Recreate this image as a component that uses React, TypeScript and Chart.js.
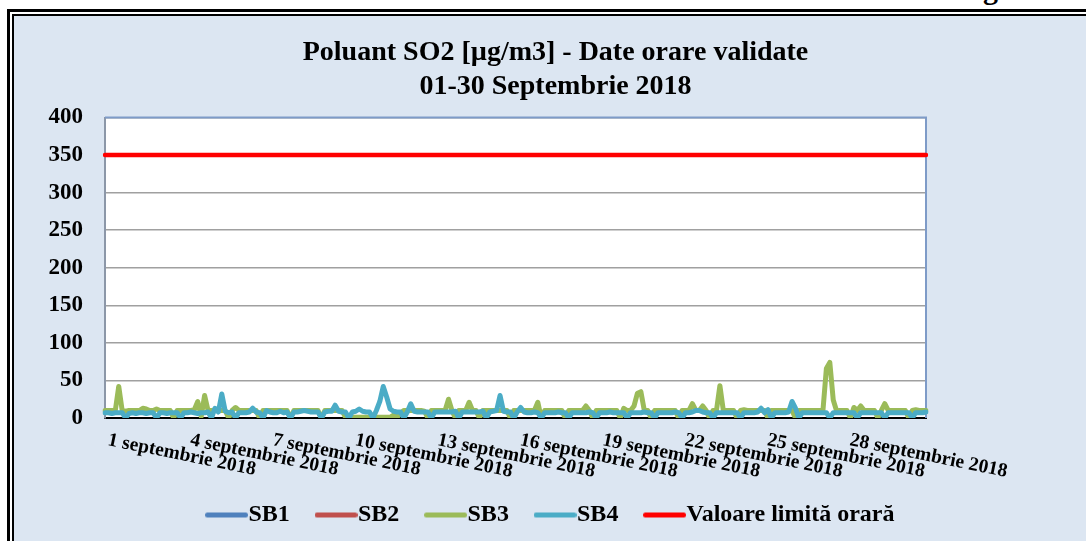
import React, { useEffect, useRef } from 'react';
import { Chart, registerables } from 'chart.js';

Chart.register(...registerables);

// ---- data ----
const days = [1, 2, 3, 4, 5, 6, 7, 8, 9, 10, 11, 12, 13, 14, 15, 16, 17, 18, 19, 20, 21, 22, 23, 24, 25, 26, 27, 28, 29, 30];
const hoursOfDay = ['00:00', '03:00', '06:00', '09:00', '12:00', '15:00', '18:00', '21:00'];
const categories = days.flatMap((d) => hoursOfDay.map((h) => `${d} septembrie 2018 ${h}`));

const tickDays = [1, 4, 7, 10, 13, 16, 19, 22, 25, 28];
const tickLabels = [
  '1 septembrie 2018', '4 septembrie 2018', '7 septembrie 2018', '10 septembrie 2018', '13 septembrie 2018',
  '16 septembrie 2018', '19 septembrie 2018', '22 septembrie 2018', '25 septembrie 2018', '28 septembrie 2018',
];

const seriesNames = ['SB1', 'SB2', 'SB3', 'SB4', 'Valoare limită orară'];
const seriesColors = ['#4f81bd', '#c0504d', '#9bbb59', '#4bacc6', '#ff0000'];

const sb1Values: (number | null)[] = [];
const sb2Values: (number | null)[] = [];

const sb3Values = [
  10, 10, 10, 10, 42, 10, 9, 10,
  10, 10, 10, 13, 12, 10, 10, 12,
  10, 10, 10, 10, 0, 10, 10, 10,
  10, 10, 11, 22, 2, 30, 10, 10,
  10, 10, 10, 10, 0, 10, 14, 10,
  10, 10, 10, 10, 10, 0, 10, 10,
  10, 10, 10, 10, 10, 10, 0, 10,
  10, 10, 10, 10, 10, 10, 10, 0,
  10, 10, 10, 10, 10, 10, 1, 1,
  1, 1, 1, 1, 1, 1, 1, 1,
  1, 1, 1, 1, 4, 1, 6, 10,
  10, 10, 10, 10, 10, 9, 0, 10,
  10, 10, 10, 10, 25, 10, 0, 10,
  10, 10, 21, 10, 10, 0, 10, 10,
  10, 10, 10, 10, 10, 10, 0, 10,
  10, 10, 10, 10, 10, 10, 21, 0,
  10, 10, 10, 10, 10, 10, 0, 10,
  10, 10, 10, 10, 16, 10, 0, 10,
  10, 10, 10, 10, 10, 10, 0, 13,
  10, 10, 16, 33, 35, 10, 10, 0,
  10, 10, 10, 10, 10, 10, 10, 0,
  10, 10, 10, 19, 10, 10, 16, 10,
  0, 10, 10, 43, 10, 10, 10, 10,
  0, 10, 11, 10, 10, 10, 10, 10,
  10, 0, 10, 10, 10, 10, 10, 10,
  10, 0, 10, 10, 10, 10, 10, 10,
  10, 10, 66, 74, 24, 9, 10, 10,
  10, 0, 14, 10, 16, 10, 10, 10,
  10, 0, 10, 19, 10, 10, 10, 10,
  10, 10, 0, 10, 11, 10, 10, 10,
];

const sb4Values = [
  7, 7, 6, 7, 7, 7, 0, 6,
  7, 6, 7, 7, 6, 7, 7, 0,
  7, 7, 6, 7, 7, 7, 0, 7,
  7, 8, 7, 6, 7, 7, 8, 0,
  13, 8, 32, 9, 7, 8, 0, 7,
  7, 7, 8, 13, 8, 7, 0, 10,
  8, 7, 7, 9, 7, 8, 0, 8,
  8, 9, 10, 9, 8, 8, 8, 0,
  8, 9, 9, 17, 9, 8, 8, 0,
  8, 9, 12, 9, 8, 8, 0, 10,
  22, 42, 28, 12, 9, 8, 8, 0,
  8, 19, 9, 8, 8, 8, 8, 0,
  8, 8, 8, 8, 8, 8, 9, 0,
  8, 8, 8, 8, 8, 8, 9, 0,
  8, 9, 10, 30, 9, 8, 8, 0,
  8, 14, 8, 7, 7, 8, 7, 0,
  7, 7, 7, 7, 8, 7, 7, 0,
  7, 7, 7, 7, 7, 8, 7, 0,
  7, 7, 7, 8, 7, 7, 7, 7,
  0, 7, 7, 7, 7, 8, 7, 7,
  0, 7, 7, 7, 7, 7, 8, 7,
  0, 7, 7, 8, 10, 10, 8, 7,
  7, 0, 7, 7, 7, 7, 7, 7,
  7, 0, 7, 7, 7, 7, 8, 13,
  7, 11, 0, 7, 7, 7, 7, 8,
  22, 13, 0, 7, 7, 7, 7, 7,
  7, 7, 7, 0, 7, 7, 7, 7,
  7, 7, 7, 0, 7, 7, 7, 7,
  7, 7, 7, 0, 7, 7, 7, 7,
  7, 7, 7, 0, 7, 7, 7, 8,
];

const limitValue = 350;

const titleLines = ['Poluant SO2 [µg/m3] - Date orare validate', '01-30 Septembrie 2018'];

const FONT = "'Liberation Serif', 'Times New Roman', serif";

export default function App() {
  const ref = useRef<HTMLCanvasElement>(null);

  useEffect(() => {
    const canvas = ref.current;
    if (!canvas) return;

    const legendImgs = seriesColors.map((c) => {
      const cv = document.createElement('canvas');
      cv.width = 43;
      cv.height = 7;
      const g = cv.getContext('2d')!;
      g.strokeStyle = c;
      g.lineWidth = 5;
      g.lineCap = 'round';
      g.beginPath();
      g.moveTo(2.5, 3.5);
      g.lineTo(40.5, 3.5);
      g.stroke();
      return cv;
    });

    const plotFrame = {
      id: 'plotFrame',
      beforeDraw(chart: any) {
        const { ctx, chartArea: a } = chart;
        ctx.save();
        ctx.fillStyle = '#ffffff';
        ctx.fillRect(a.left, a.top, a.right - a.left, a.bottom - a.top);
        ctx.restore();
      },
      beforeDatasetsDraw(chart: any) {
        const { ctx, chartArea: a } = chart;
        ctx.save();
        ctx.strokeStyle = '#7e9bc8';
        ctx.lineWidth = 2;
        ctx.beginPath();
        ctx.moveTo(a.left, a.top);
        ctx.lineTo(a.right, a.top);
        ctx.lineTo(a.right, a.bottom);
        ctx.stroke();
        ctx.restore();
      },
    };

    const xLabels = {
      id: 'xLabels',
      afterDraw(chart: any) {
        const { ctx, chartArea: a } = chart;
        const xs = chart.scales.x;
        ctx.save();
        ctx.font = `bold 19.5px ${FONT}`;
        ctx.fillStyle = '#000';
        ctx.textAlign = 'left';
        ctx.textBaseline = 'alphabetic';
        tickDays.forEach((d, k) => {
          const px = xs.getPixelForValue((d - 1) * hoursOfDay.length);
          ctx.save();
          ctx.translate(px + 2, a.bottom + 27);
          ctx.rotate((11.5 * Math.PI) / 180);
          ctx.fillText(tickLabels[k], 0, 0);
          ctx.restore();
        });
        ctx.restore();
      },
    };

    const seriesData = [sb1Values, sb2Values, sb3Values, sb4Values, categories.map(() => limitValue)];
    const orders = [4, 3, 2, 1, 0];
    const widths = [5, 5, 5, 5, 4.5];

    const chart = new Chart(canvas, {
      type: 'line',
      data: {
        labels: categories,
        datasets: seriesNames.map((name, i) => ({
          label: name,
          data: seriesData[i],
          borderColor: seriesColors[i],
          backgroundColor: seriesColors[i],
          borderWidth: widths[i],
          order: orders[i],
          pointRadius: 0,
          pointHoverRadius: 0,
          tension: 0,
          borderJoinStyle: 'round',
          borderCapStyle: 'round',
        })),
      },
      options: {
        animation: false,
        responsive: false,
        events: [],
        layout: { padding: { left: 0, right: 0, top: 0, bottom: 4 } },
        scales: {
          x: {
            type: 'category',
            offset: false,
            grid: { display: false, drawTicks: false },
            ticks: { display: false },
            border: { display: true, color: '#000000', width: 2 },
            afterFit: (s: any) => {
              s.height = 48.85;
            },
          },
          y: {
            min: 0,
            max: 400,
            ticks: {
              stepSize: 50,
              padding: 22,
              color: '#000',
              font: { family: FONT, size: 23, weight: 'bold' },
            },
            grid: { color: '#a0a0a0', lineWidth: 1.6, drawTicks: false },
            border: { color: '#8c97a8', width: 2 },
            afterFit: (s: any) => {
              s.width = 91;
            },
          },
          yR: {
            position: 'right',
            display: true,
            grid: { display: false, drawTicks: false },
            ticks: { display: false },
            border: { display: false },
            afterFit: (s: any) => {
              s.width = 171;
            },
          },
        },
        plugins: {
          title: {
            display: true,
            text: titleLines,
            color: '#000',
            font: { family: FONT, size: 28, weight: 'bold', lineHeight: 34 / 28 },
            padding: { top: 20, bottom: 13.5 },
          },
          legend: {
            display: true,
            position: 'bottom',
            labels: {
              usePointStyle: true,
              boxWidth: 20,
              boxHeight: 24,
              padding: 36.15,
              color: '#000',
              font: { family: FONT, size: 24, weight: 'bold' },
              generateLabels: (ch: any) => {
                const base = (Chart.defaults.plugins.legend.labels as any).generateLabels(ch);
                return base.map((it: any) => ({ ...it, pointStyle: legendImgs[it.datasetIndex] }));
              },
              sort: (a: any, b: any) => a.datasetIndex - b.datasetIndex,
            },
          },
          tooltip: { enabled: false },
        },
      } as any,
      plugins: [plotFrame, xLabels],
    });

    return () => chart.destroy();
  }, []);

  return (
    <div
      style={{
        position: 'absolute',
        left: 0,
        top: 0,
        width: 1086,
        height: 541,
        overflow: 'hidden',
        background: '#ffffff',
      }}
    >
      <span
        style={{
          position: 'absolute',
          left: 983,
          top: -26,
          font: `bold 30px ${FONT}`,
          lineHeight: '30px',
          color: '#000',
        }}
      >
        g
      </span>
      <div
        style={{
          position: 'absolute',
          left: 7,
          top: 9,
          width: 1200,
          height: 600,
          border: '3px solid #000',
          boxSizing: 'border-box',
          background: '#ffffff',
        }}
      />
      <div
        style={{
          position: 'absolute',
          left: 12,
          top: 14,
          width: 1200,
          height: 600,
          border: '2px solid #000',
          boxSizing: 'border-box',
          background: '#dce6f2',
        }}
      />
      <canvas
        ref={ref}
        width={1083}
        height={525}
        style={{ position: 'absolute', left: 14, top: 16, width: 1083, height: 525 }}
      />
    </div>
  );
}
